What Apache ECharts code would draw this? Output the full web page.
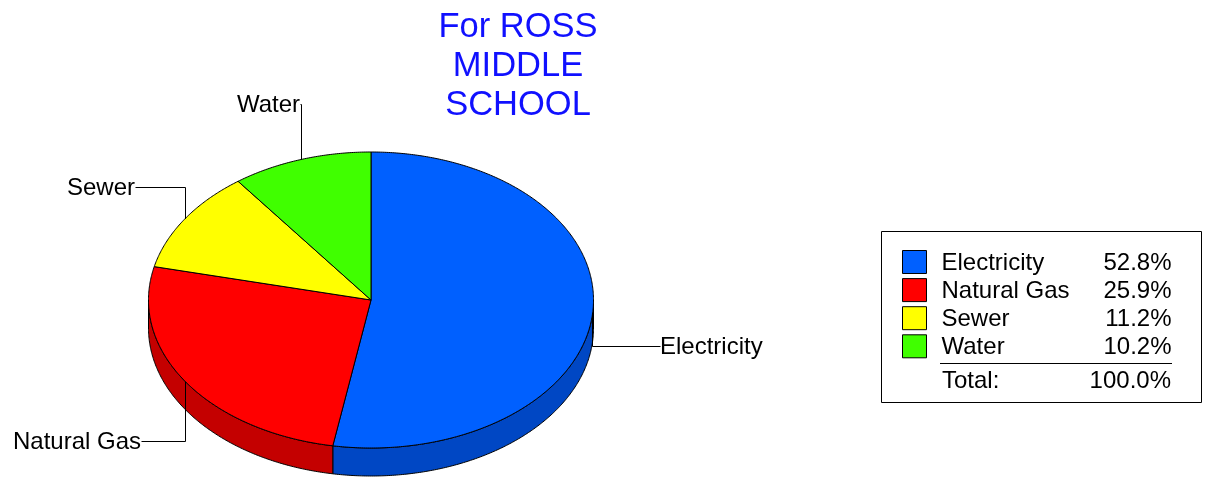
<!DOCTYPE html>
<html>
<head>
<meta charset="utf-8">
<style>html,body{margin:0;padding:0;background:#fff}#c{width:1208px;height:477px}</style>
<script src="https://cdn.jsdelivr.net/npm/echarts@6/dist/echarts.min.js"></script>
</head>
<body>
<div id="c"></div>
<script>
const categories = ['Electricity', 'Natural Gas', 'Sewer', 'Water'];
const values = [52.8, 25.9, 11.2, 10.2];
const totalLabel = 'Total:';
const totalValue = '100.0%';
const titleText = 'For ROSS\nMIDDLE\nSCHOOL';
const topColors = ['#0060ff', '#ff0000', '#ffff00', '#40ff00'];
const wallColors = ['#0047c4', '#c40000', '#c4c400', '#30c400'];
const labelEndX = [660, 141, 135, 300];
const labelY = [346, 441, 187, 104];
const FONT = '"Liberation Sans", Arial, sans-serif';
const CX = 371, CY = 300, RX = 222.5, RY = 148, DEPTH = 28;

const sum = values.reduce((a, b) => a + b, 0);
function rim(deg, dy) {
  const r = deg * Math.PI / 180;
  return [CX + RX * Math.sin(r), CY - RY * Math.cos(r) + (dy || 0)];
}
function arc(a, b, dy) {
  const pts = [];
  const n = Math.max(2, Math.ceil(Math.abs(b - a) * 2));
  for (let i = 0; i <= n; i++) pts.push(rim(a + (b - a) * i / n, dy));
  return pts;
}
function startOf(idx) {
  let s = 0;
  for (let i = 0; i < idx; i++) s += values[i];
  return s / sum * 360;
}
function sliceRenderer(idx) {
  return function () {
    const a0 = startOf(idx), a1 = a0 + values[idx] / sum * 360;
    const children = [];
    const w0 = Math.max(a0, 90), w1 = Math.min(a1, 270);
    if (w1 > w0) {
      children.push({
        type: 'polygon',
        shape: { points: arc(w0, w1, 0).concat(arc(w1, w0, DEPTH)) },
        style: { fill: wallColors[idx], stroke: '#000', lineWidth: 1, lineJoin: 'round' }
      });
    }
    children.push({
      type: 'polygon',
      shape: { points: [[CX, CY]].concat(arc(a0, a1, 0)) },
      style: { fill: topColors[idx], stroke: '#000', lineWidth: 1, lineJoin: 'round' }
    });
    const p = rim((a0 + a1) / 2, 0);
    const x = Math.floor(p[0] + 0.25) + 0.5, y = labelY[idx] + 0.5;
    children.push({
      type: 'polyline',
      shape: { points: [[x, p[1]], [x, y], [labelEndX[idx] + 0.5, y]] },
      style: { fill: null, stroke: '#000', lineWidth: 1 }
    });
    const right = labelEndX[idx] < x;
    children.push({
      type: 'text',
      style: {
        x: labelEndX[idx], y: labelY[idx] + 1.5, text: categories[idx],
        fill: '#000', font: '24px ' + FONT,
        align: right ? 'right' : 'left', verticalAlign: 'middle'
      }
    });
    return { type: 'group', children: children };
  };
}

const chart = echarts.init(document.getElementById('c'), null, { renderer: 'canvas' });
chart.setOption({
  animation: false,
  backgroundColor: '#fff',
  tooltip: { show: false },
  title: {
    text: titleText,
    left: 513, top: 3,
    textAlign: 'center',
    textStyle: { fontFamily: FONT, fontSize: 34.5, fontWeight: 'normal', color: '#1010ff', lineHeight: 39 }
  },
  legend: {
    orient: 'vertical',
    left: 902, top: 250,
    padding: 0,
    itemWidth: 24, itemHeight: 23, itemGap: 2.6,
    selectedMode: false,
    icon: 'rect',
    data: categories,
    itemStyle: { borderColor: '#000', borderWidth: 1 },
    formatter: function (name) {
      const v = values[categories.indexOf(name)].toFixed(1) + '%';
      return '{n|' + name + '}{v|' + v + '}';
    },
    textStyle: {
      fontFamily: FONT, fontSize: 24, color: '#000', padding: [3, 0, 0, 10],
      rich: {
        n: { fontFamily: FONT, fontSize: 24, width: 149, height: 23, align: 'left', color: '#000' },
        v: { fontFamily: FONT, fontSize: 24, width: 81, height: 23, align: 'right', color: '#000' }
      }
    }
  },
  graphic: [
    { type: 'rect', z: -1, shape: { x: 881.5, y: 231.5, width: 320, height: 171 }, style: { fill: '#fff', stroke: '#000', lineWidth: 1 } },
    { type: 'line', shape: { x1: 940, y1: 363.5, x2: 1172, y2: 363.5 }, style: { stroke: '#000', lineWidth: 1 } },
    { type: 'text', style: { x: 942, y: 381, text: totalLabel, font: '24px ' + FONT, fill: '#000', align: 'left', verticalAlign: 'middle' } },
    { type: 'text', style: { x: 1171, y: 381, text: totalValue, font: '24px ' + FONT, fill: '#000', align: 'right', verticalAlign: 'middle' } }
  ],
  series: categories.map((name, i) => ({
    type: 'custom',
    name: name,
    coordinateSystem: 'none',
    itemStyle: { color: topColors[i] },
    silent: true,
    clip: false,
    data: [[values[i]]],
    renderItem: sliceRenderer(i)
  }))
});
</script>
</body>
</html>
